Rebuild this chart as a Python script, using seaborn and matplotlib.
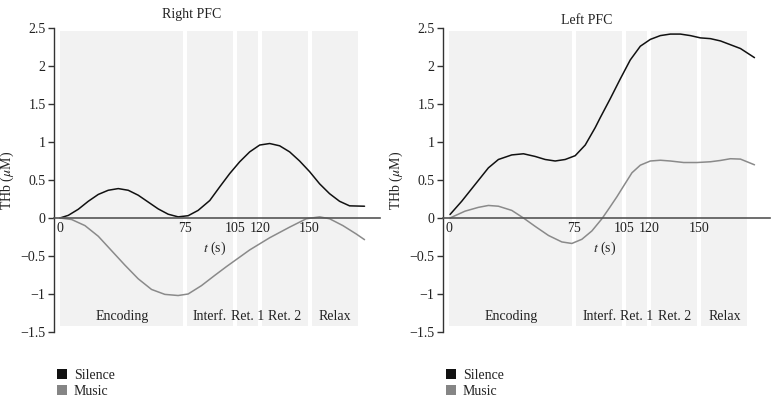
import matplotlib
matplotlib.use("Agg")
import matplotlib.pyplot as plt
import seaborn as sns
import pandas as pd
from matplotlib.patches import Patch

# ---------------- data ----------------
phase_names = ["Encoding", "Interf.", "Ret. 1", "Ret. 2", "Relax"]
phase_bounds = [0, 75, 105, 120, 150, 180]
xtick_vals = [0, 75, 105, 120, 150]
ytick_vals = [-1.5, -1, -0.5, 0, 0.5, 1, 1.5, 2, 2.5]

right_silence_t = [0, 5, 11, 17, 23, 29, 35, 41, 47, 53, 59, 65, 71, 77, 83, 90, 96, 102,
                   108, 114, 120, 126, 132, 138, 144, 150, 156, 162, 168, 174, 183]
right_silence_y = [0.0, 0.035, 0.115, 0.22, 0.31, 0.365, 0.387, 0.365, 0.30, 0.21, 0.12, 0.05,
                   0.015, 0.03, 0.10, 0.23, 0.41, 0.585, 0.74, 0.87, 0.96, 0.98, 0.95, 0.87,
                   0.75, 0.61, 0.45, 0.32, 0.22, 0.16, 0.155]
right_music_t = [0, 7, 15, 23, 31, 39, 47, 55, 63, 71, 77, 85, 93, 100, 107, 114, 126, 138,
                 148, 156, 162, 170, 178, 183]
right_music_y = [0.0, -0.02, -0.10, -0.24, -0.43, -0.62, -0.80, -0.94, -1.005, -1.02, -1.0,
                 -0.89, -0.755, -0.64, -0.53, -0.42, -0.26, -0.12, -0.01, 0.015, -0.01, -0.10,
                 -0.21, -0.285]

left_silence_t = [0.6, 7.6, 15.6, 23.6, 29.6, 37.6, 44.6, 51.6, 57.6, 63.6, 69.6, 75.6, 81.6,
                  87.6, 90.6, 96.6, 102.6, 108.6, 114.6, 120.6, 126.6, 132.6, 138.6, 144.6,
                  150.6, 156.6, 162.6, 168.6, 174.6, 183]
left_silence_y = [0.046, 0.22, 0.44, 0.66, 0.77, 0.83, 0.845, 0.81, 0.77, 0.75, 0.77, 0.82,
                  0.96, 1.19, 1.32, 1.57, 1.83, 2.08, 2.26, 2.35, 2.40,
                  2.42, 2.42, 2.40, 2.37, 2.36, 2.33, 2.28, 2.23, 2.11]
left_music_t = [0.6, 9.6, 17.6, 23.6, 29.6, 37.6, 44.6, 51.6, 59.6, 67.6, 73.6, 79.6, 85.6,
                91.6, 96, 100.6, 104, 109.6, 114.6, 120.6, 126.6, 132.6, 140.6, 148.6, 156.6,
                162.6, 168.6, 174.6, 183]
left_music_y = [0.0, 0.09, 0.14, 0.165, 0.155, 0.10, 0.0, -0.11, -0.23, -0.315, -0.335, -0.28,
                -0.17, -0.01, 0.13, 0.28, 0.40, 0.595, 0.695, 0.75, 0.76, 0.75, 0.73, 0.73,
                0.74, 0.757, 0.78, 0.775, 0.70]

series_names = ["Silence", "Music"]
series_colors = {"Silence": "#111111", "Music": "#8a8a8a"}
legend_colors = ["#111111", "#858585"]

# ---------------- style ----------------
sns.set_style("white")
plt.rcParams["font.family"] = ["Liberation Serif", "DejaVu Serif"]
plt.rcParams["mathtext.fontset"] = "stix"

fig = plt.figure(figsize=(7.78, 4.01), dpi=100)
W, H = 778, 401


def make_df(st, sy, mt, my):
    return pd.concat([
        pd.DataFrame({"t": st, "thb": sy, "cond": "Silence"}),
        pd.DataFrame({"t": mt, "thb": my, "cond": "Music"}),
    ], ignore_index=True)


panels = [
    dict(left=54, right=380, title="Right PFC", title_x=192, title_y=14,
         df=make_df(right_silence_t, right_silence_y, right_music_t, right_music_y)),
    dict(left=443, right=770, title="Left PFC", title_x=587, title_y=20,
         df=make_df(left_silence_t, left_silence_y, left_music_t, left_music_y)),
]

top_px, bot_px = 28, 332
txt_color = "#222222"
fs = 10

for p in panels:
    ax = fig.add_axes([p["left"] / W, (H - bot_px) / H,
                       (p["right"] - p["left"]) / W, (bot_px - top_px) / H])
    ax.set_xlim(-3.6, 192.3)
    ax.set_ylim(-1.5, 2.5)
    ax.set_facecolor("white")

    # phase shading
    g = 1.2
    for i, name in enumerate(phase_names):
        a, b = phase_bounds[i], phase_bounds[i + 1]
        a0 = a if i == 0 else a + g
        b0 = b - g
        ax.axvspan(a0, b0, ymin=(-1.42 + 1.5) / 4, ymax=(2.46 + 1.5) / 4,
                   color="#f2f2f2", lw=0, zorder=0)
        ax.text((a + b) / 2, -1.29, name, ha="center", va="center",
                fontsize=fs, color=txt_color, zorder=3)

    sns.lineplot(data=p["df"], x="t", y="thb", hue="cond", hue_order=series_names,
                 palette=series_colors, sort=False, estimator=None, lw=1.1,
                 legend=False, ax=ax, zorder=4)

    # spines
    for s in ["top", "right"]:
        ax.spines[s].set_visible(False)
    ax.spines["left"].set_color("#333333")
    ax.spines["left"].set_linewidth(1.0)
    ax.spines["left"].set_bounds(-1.5, 2.5)
    ax.spines["bottom"].set_position(("data", 0))
    ax.spines["bottom"].set_color("#555555")
    ax.spines["bottom"].set_linewidth(1.2)
    ax.spines["bottom"].set_zorder(5)

    ax.set_yticks(ytick_vals)
    ax.set_yticklabels([("\u2212" + f"{abs(v):g}") if v < 0 else f"{v:g}" for v in ytick_vals])
    ax.tick_params(axis="y", direction="out", length=4, width=1, color="#333333",
                   labelsize=fs, labelcolor=txt_color, left=True, pad=2)
    ax.set_xticks(xtick_vals)
    ax.set_xticklabels([f"{v}" for v in xtick_vals])
    ax.tick_params(axis="x", length=0, labelsize=fs, labelcolor=txt_color, pad=3)

    ax.set_xlabel("")
    ax.set_ylabel("THb ($\\mu$M)", fontsize=fs, color=txt_color)
    ax.yaxis.set_label_coords(-38 / (p["right"] - p["left"]), 0.5)

    ax.text(93, -0.40, "$t$ (s)", ha="center", va="center", fontsize=fs,
            color=txt_color, zorder=3)

    ax.text((p["title_x"] - p["left"]) / (p["right"] - p["left"]),
            1 + (top_px - p["title_y"]) / (bot_px - top_px),
            p["title"], transform=ax.transAxes, ha="center", va="center",
            fontsize=fs, color=txt_color)

    handles = [Patch(facecolor=c, edgecolor="none") for c in legend_colors]
    fig.legend(handles, series_names, loc="upper left",
               bbox_to_anchor=((p["left"] - 3) / W, (H - 363) / H),
               frameon=False, fontsize=fs, handlelength=0.75, handleheight=0.75,
               handletextpad=0.5, labelspacing=0.25, borderaxespad=0,
               labelcolor=txt_color)

fig.savefig("out.png", dpi=100, facecolor="white")
